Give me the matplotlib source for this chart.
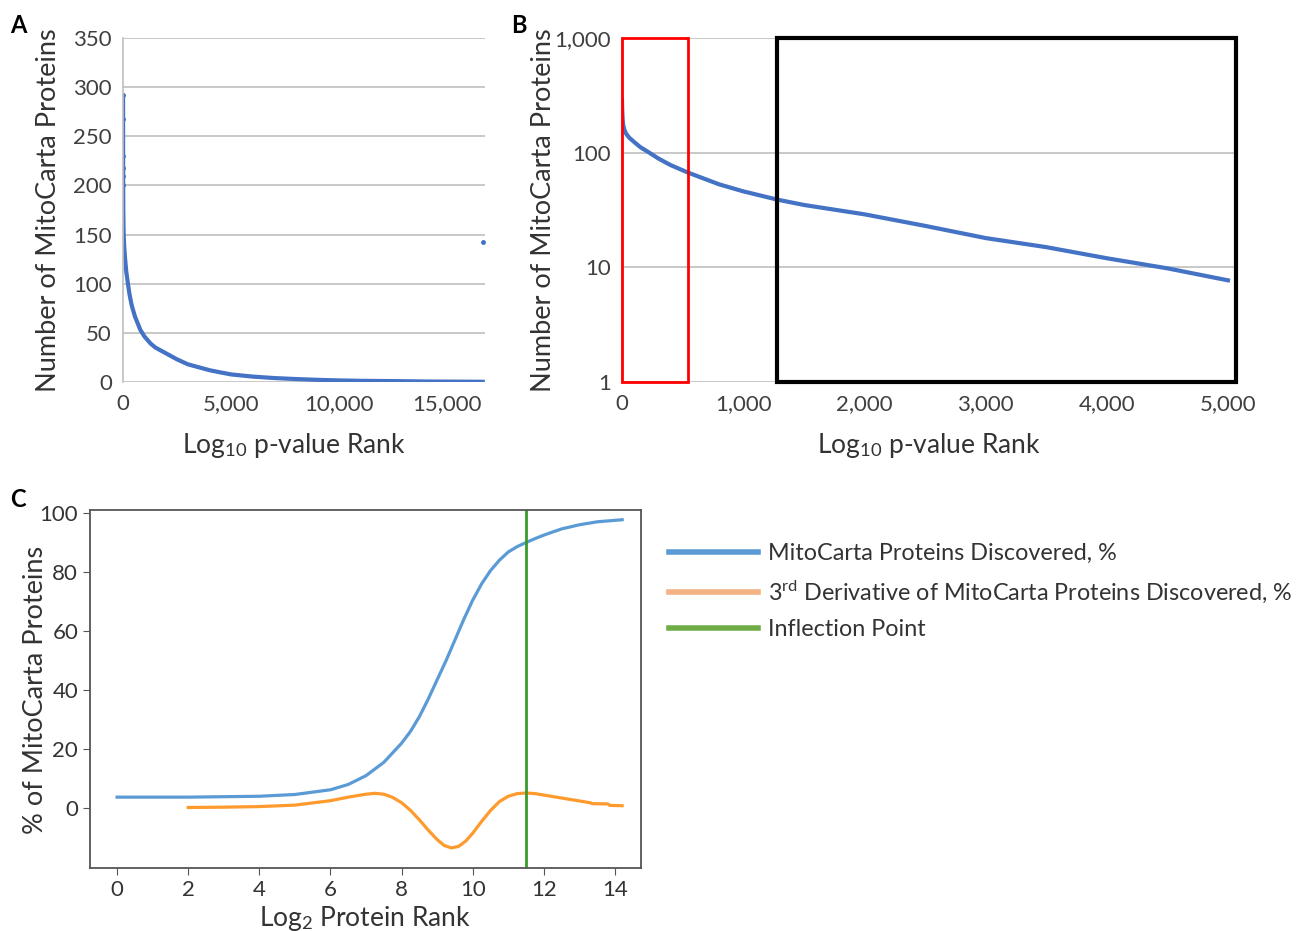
import matplotlib
matplotlib.use("Agg")
import matplotlib.pyplot as plt
from matplotlib.patches import Rectangle
from matplotlib.ticker import FuncFormatter
from matplotlib.lines import Line2D

plt.rcParams['font.family'] = ['Lato', 'DejaVu Sans']
plt.rcParams['mathtext.fontset'] = 'custom'
plt.rcParams['mathtext.rm'] = 'Lato'
plt.rcParams['mathtext.it'] = 'Lato:italic'

rank = [0, 2, 5, 10, 20, 35, 60, 100, 150, 225, 300, 400, 545, 800, 1000,
        1279, 1500, 2000, 2500, 3000, 3500, 4000, 4500, 5000, 6000, 7000,
        8000, 9000, 10000, 11000, 12000, 13000, 14000, 15000, 16000, 16650]
count = [290, 240, 200, 175, 158, 146, 135, 124, 112, 100, 89, 78, 67, 53, 46,
         39, 35, 29, 23, 18, 15, 12, 9.8, 7.7, 5.5, 4, 3, 2.2,
         1.6, 1.2, 1.0, 0.8, 0.5, 0.4, 0.3, 0.2]
top_rank = [0, 0, 0, 0, 0, 0]
top_count = [292, 268, 230, 218, 210, 200]
outlier_rank = [16650]
outlier_count = [142]

# panel C curves
log2_rank = [0, 2, 4, 5, 6, 6.5, 7, 7.5, 8, 8.25, 8.5, 8.75, 9, 9.25, 9.5,
             9.75, 10, 10.25, 10.5, 10.75, 11, 11.25, 11.5, 11.75, 12, 12.5,
             13, 13.5, 14.2]
pct_found = [3.7, 3.7, 4.0, 4.6, 6.2, 8.0, 11, 15.5, 22, 26, 31, 37, 43.5, 50,
             57, 64, 70.5, 76, 80.5, 84, 86.8, 88.6, 90, 91.3, 92.5, 94.6,
             96, 97, 97.7]
d3_x = [2, 3, 4, 5, 6, 6.5, 7, 7.25, 7.5, 7.75, 8, 8.25, 8.5, 8.75, 9, 9.2,
        9.4, 9.6, 9.8, 10, 10.25, 10.5, 10.75, 11, 11.25, 11.5, 11.75, 12,
        12.5, 13, 13.3, 13.35, 13.8, 13.85, 14.2]
d3_y = [0.2, 0.3, 0.5, 1.0, 2.5, 3.7, 4.7, 5.0, 4.7, 3.6, 1.8, -0.8, -4,
        -7.5, -10.7, -12.7, -13.5, -13, -11.2, -8.5, -4.5, -0.8, 2.2, 4.0,
        4.9, 5.1, 4.9, 4.4, 3.4, 2.4, 1.8, 1.5, 1.4, 0.9, 0.8]
inflection = 11.5

grid_c = '#bfbfbf'
txt_c = '#333333'
dot_c = '#4472c4'
thousands = FuncFormatter(lambda v, p: f'{int(v):,}')

fig = plt.figure(figsize=(13.05, 9.31), dpi=100)

# ---- panel A
axA = fig.add_axes([0.0943, 0.5897, 0.2774, 0.3695])
axA.plot(rank, count, '-', color=dot_c, lw=3)
axA.plot(top_rank, top_count, 'o', color=dot_c, ms=2.5)
axA.plot(outlier_rank, outlier_count, 'o', color=dot_c, ms=2.5)
axA.set_xlim(0, 16760)
axA.set_ylim(0, 350)
axA.set_yticks(range(0, 351, 50))
axA.set_xticks([0, 5000, 10000, 15000])
axA.xaxis.set_major_formatter(thousands)
axA.grid(axis='y', color=grid_c, lw=1.2)
axA.set_xlabel('Log$_{10}$ p-value Rank', fontsize=19, color=txt_c)
axA.set_ylabel('Number of MitoCarta Proteins', fontsize=19.5, color=txt_c)
axA.xaxis.set_label_coords(0.472, -0.142)
axA.yaxis.set_label_coords(-0.171, 0.5)

# ---- panel B
axB = fig.add_axes([0.4766, 0.5897, 0.4705, 0.3695])
axB.plot(rank[:24], count[:24], '-', color=dot_c, lw=3)
axB.set_yscale('log')
axB.set_xlim(0, 5066)
axB.set_ylim(1, 1000)
axB.set_xticks(range(0, 5001, 1000))
axB.xaxis.set_major_formatter(thousands)
axB.set_yticks([1, 10, 100, 1000])
axB.yaxis.set_major_formatter(thousands)
axB.minorticks_off()
axB.grid(axis='y', color=grid_c, lw=1.2)
axB.add_patch(Rectangle((0, 1), 545, 999, fill=False, ec='#ff0000', lw=2, zorder=5, clip_on=False))
axB.add_patch(Rectangle((1279, 1), 5066 - 1279, 999, fill=False, ec='black', lw=3, zorder=5, clip_on=False))
axB.set_xlabel('Log$_{10}$ p-value Rank', fontsize=19, color=txt_c)
axB.set_ylabel('Number of MitoCarta Proteins', fontsize=19.5, color=txt_c)
axB.xaxis.set_label_coords(0.5, -0.142)
axB.yaxis.set_label_coords(-0.108, 0.5)

for ax in (axA, axB):
    for s in ('top', 'right', 'bottom'):
        ax.spines[s].set_visible(False)
    ax.spines['left'].set_color(grid_c)
    ax.spines['left'].set_linewidth(1.2)
    ax.tick_params(length=0, labelsize=16, labelcolor='#404040')
    ax.tick_params(axis='y', pad=8)
    ax.tick_params(axis='x', pad=9)
    ax.set_axisbelow(True)

# ---- panel C
axC = fig.add_axes([0.069, 0.0677, 0.4222, 0.3845])
axC.plot(log2_rank, pct_found, color='#5b9bd5', lw=2.3)
axC.plot(d3_x, d3_y, color='#ff9a2e', lw=2.3)
axC.axvline(inflection, color='#3a9a2a', lw=2)
axC.set_xlim(-0.76, 14.73)
axC.set_ylim(-20.3, 101)
axC.set_xticks(range(0, 15, 2))
axC.set_yticks(range(0, 101, 20))
for s in axC.spines.values():
    s.set_color('#555555')
    s.set_linewidth(1.3)
axC.tick_params(labelsize=16, labelcolor=txt_c, color='#555555', length=5)
axC.set_xlabel('Log$_{2}$ Protein Rank', fontsize=19, color=txt_c)
axC.set_ylabel('% of MitoCarta Proteins', fontsize=19.5, color=txt_c)
axC.xaxis.set_label_coords(0.499, -0.1)
axC.yaxis.set_label_coords(-0.076, 0.497)

handles = [Line2D([], [], color='#5b9bd5', lw=4),
           Line2D([], [], color='#f4b183', lw=4),
           Line2D([], [], color='#70ad47', lw=4)]
labels = ['MitoCarta Proteins Discovered, %',
          '3$^{\\mathrm{rd}}$ Derivative of MitoCarta Proteins Discovered, %',
          'Inflection Point']
fig.legend(handles, labels, loc='upper left', bbox_to_anchor=(0.513, 0.417),
           frameon=False, fontsize=16.8, handlelength=3.8, labelspacing=0.62,
           handletextpad=0.42, borderpad=0, borderaxespad=0, labelcolor=txt_c)

fig.text(0.008, 0.965, 'A', fontsize=17, fontweight='bold')
fig.text(0.392, 0.965, 'B', fontsize=17, fontweight='bold')
fig.text(0.008, 0.455, 'C', fontsize=17, fontweight='bold')

fig.savefig('out.png', dpi=100)
